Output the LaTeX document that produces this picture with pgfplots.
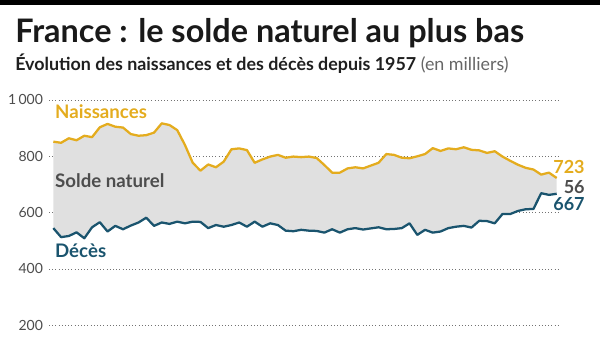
\documentclass[border=0pt]{standalone}
\usepackage{pgfplots}
\pgfplotsset{compat=1.18}
\usepackage{pgfplotstable}
\usepgfplotslibrary{fillbetween}
\usepackage{fontspec}
\setmainfont{Lato}
\definecolor{gold}{RGB}{228,172,30}
\definecolor{deccol}{RGB}{26,84,110}
\definecolor{soldecol}{RGB}{77,77,77}
\pgfplotstableread{
year b d
1957 852 545
1958 848 513
1959 864 517
1960 857 530
1961 873 509
1962 868 548
1963 903 566
1964 915 533
1965 905 553
1966 902 541
1967 879 554
1968 873 565
1969 875 582
1970 884 553
1971 917 565
1972 911 560
1973 893 568
1974 840 562
1975 777 568
1976 749 567
1977 771 545
1978 761 556
1979 781 550
1980 825 556
1981 828 565
1982 822 550
1983 777 568
1984 789 550
1985 799 562
1986 805 556
1987 795 536
1988 799 534
1989 797 539
1990 799 536
1991 794 535
1992 769 529
1993 742 541
1994 742 529
1995 757 541
1996 761 545
1997 757 540
1998 767 544
1999 777 548
2000 808 541
2001 805 542
2002 795 545
2003 793 562
2004 800 521
2005 808 539
2006 829 529
2007 819 533
2008 828 545
2009 825 550
2010 832 553
2011 823 547
2012 821 571
2013 812 570
2014 818 562
2015 799 595
2016 784 595
2017 770 606
2018 759 612
2019 753 613
2020 735 669
2021 742 663
2022 723 667
}\data
\begin{document}
\begin{tikzpicture}
\begin{axis}[
  at={(36.75pt,9.525pt)}, anchor=south west, scale only axis,
  width=382.5pt, height=169pt,
  xmin=1956.44, xmax=2022.3, ymin=200, ymax=1000,
  axis line style={draw=none}, tick style={draw=none},
  xtick=\empty, ytick={200,400,600,800,1000},
  yticklabels={200,400,600,800,1\,000},
  ymajorgrids, major grid style={black!55, dotted, line width=0.6pt},
  yticklabel style={font=\fontsize{10.5}{10.5}\selectfont, text=black!70, xshift=-1pt},
  clip=false,
]
\addplot[name path=b, draw=none, forget plot] table[x=year,y=b]{\data};
\addplot[name path=d, draw=none, forget plot] table[x=year,y=d]{\data};
\addplot[fill=black!12, draw=none] fill between[of=b and d];
\addplot[gold, line width=1.7pt, line join=round] table[x=year,y=b]{\data};
\addplot[deccol, line width=1.7pt, line join=round] table[x=year,y=d]{\data};
\node[anchor=west, inner sep=0pt, text=gold, font=\bfseries\fontsize{14}{14}\selectfont] at (axis cs:1957.2,957) {Naissances};
\node[anchor=west, inner sep=0pt, text=soldecol, font=\bfseries\fontsize{14}{14}\selectfont] at (axis cs:1957.2,712) {Solde naturel};
\node[anchor=west, inner sep=0pt, text=deccol, font=\bfseries\fontsize{14}{14}\selectfont] at (axis cs:1957.2,464) {Décès};
\node[anchor=east, inner sep=0pt, text=gold, font=\bfseries\fontsize{13.5}{13.5}\selectfont] at (axis cs:2025.65,763) {723};
\node[anchor=east, inner sep=0pt, text=soldecol, font=\bfseries\fontsize{13.5}{13.5}\selectfont] at (axis cs:2025.65,692) {56};
\node[anchor=east, inner sep=0pt, text=deccol, font=\bfseries\fontsize{13.5}{13.5}\selectfont] at (axis cs:2025.65,631) {667};
\end{axis}
\fill[black] (0pt,249.75pt) rectangle (450pt,253.5pt);
\node[anchor=base west, inner sep=0pt, font=\bfseries\fontsize{24.3}{24.3}\selectfont, text=black!90] at (11.25pt,221.25pt) {France : le solde naturel au plus bas};
\node[anchor=base west, inner sep=0pt, font=\fontsize{13.4}{13.4}\selectfont, text=black!60] at (11.25pt,200.25pt) {\textcolor{black!88}{\textbf{Évolution des naissances et des décès depuis 1957}} (en milliers)};
\pgfresetboundingbox
\useasboundingbox (0pt,0pt) rectangle (450pt,253.5pt);
\end{tikzpicture}
\end{document}
